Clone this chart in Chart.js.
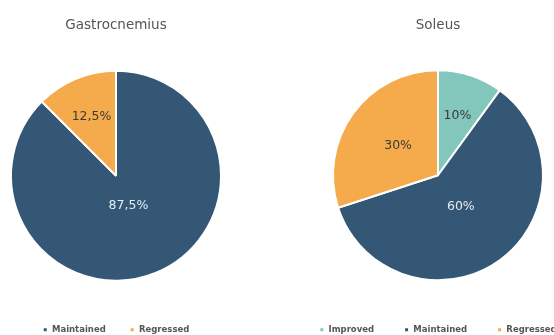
<!DOCTYPE html>
<html><head><meta charset="utf-8">
<script src="https://cdn.jsdelivr.net/npm/chart.js@4/dist/chart.umd.min.js"></script>
<style>
html,body{margin:0;padding:0;width:554px;height:335px;overflow:hidden;background:#fff;position:relative}
canvas{position:absolute;top:0}
#c1{left:-1px;width:234px;height:344px}
#c2{left:278px;width:320px;height:344px}
</style></head><body>
<canvas id="c1" width="234" height="344"></canvas>
<canvas id="c2" width="320" height="344"></canvas>
<script>
// ---- data ----
const gastroTitle = 'Gastrocnemius';
const gastroCategories = ['Maintained', 'Regressed'];
const gastroValues = [87.5, 12.5];

const soleusTitle = 'Soleus';
const soleusCategories = ['Improved', 'Maintained', 'Regressed'];
const soleusValues = [10, 60, 30];

// ---- styles ----
const categoryColors = { Improved: '#83c6bb', Maintained: '#345776', Regressed: '#f5aa4b' };
const labelTextColors = { Improved: '#3a3a3a', Maintained: '#e6ecf2', Regressed: '#3a3a3a' };
const FONT = '"DejaVu Sans", sans-serif';

const fmt = v => String(v).replace('.', ',') + '%';

const sliceLabels = {
  id: 'sliceLabels',
  afterDatasetsDraw(chart, args, opts) {
    const ctx = chart.ctx;
    const meta = chart.getDatasetMeta(0);
    const ds = chart.data.datasets[0];
    const cats = chart.data.labels;
    ctx.save();
    ctx.font = opts.font;
    ctx.textAlign = 'center';
    ctx.textBaseline = 'middle';
    meta.data.forEach((arc, i) => {
      const p = arc.getProps(['x', 'y', 'startAngle', 'endAngle', 'outerRadius'], true);
      const mid = (p.startAngle + p.endAngle) / 2;
      const r = p.outerRadius * opts.radii[i];
      ctx.fillStyle = labelTextColors[cats[i]];
      ctx.fillText(fmt(ds.data[i]), p.x + Math.cos(mid) * r, p.y + Math.sin(mid) * r);
    });
    ctx.restore();
  }
};

function makePie(id, title, cats, vals, radii, titleBottom, legendGap) {
  return new Chart(document.getElementById(id), {
    type: 'pie',
    data: {
      labels: cats,
      datasets: [{
        data: vals,
        backgroundColor: cats.map(c => categoryColors[c]),
        borderColor: '#ffffff',
        borderWidth: 2,
        radius: 105
      }]
    },
    options: {
      responsive: false,
      animation: false,
      events: [],
      layout: { padding: 0 },
      plugins: {
        title: {
          display: true,
          text: title,
          color: '#555555',
          font: { family: FONT, size: 13.5, weight: 'normal' },
          padding: { top: 17, bottom: titleBottom }
        },
        legend: {
          display: true,
          position: 'bottom',
          labels: {
            boxWidth: 5,
            boxHeight: 5,
            padding: legendGap,
            color: '#555555',
            font: { family: FONT, size: 8.5, weight: 'bold' }
          }
        },
        tooltip: { enabled: false },
        sliceLabels: { font: '12.5px ' + FONT, radii: radii }
      }
    },
    plugins: [sliceLabels]
  });
}

makePie('c1', gastroTitle, gastroCategories, gastroValues, [0.31, 0.61], 16.8, 24);
makePie('c2', soleusTitle, soleusCategories, soleusValues, [0.6, 0.37, 0.47], 21.8, 30);
</script>
</body></html>
